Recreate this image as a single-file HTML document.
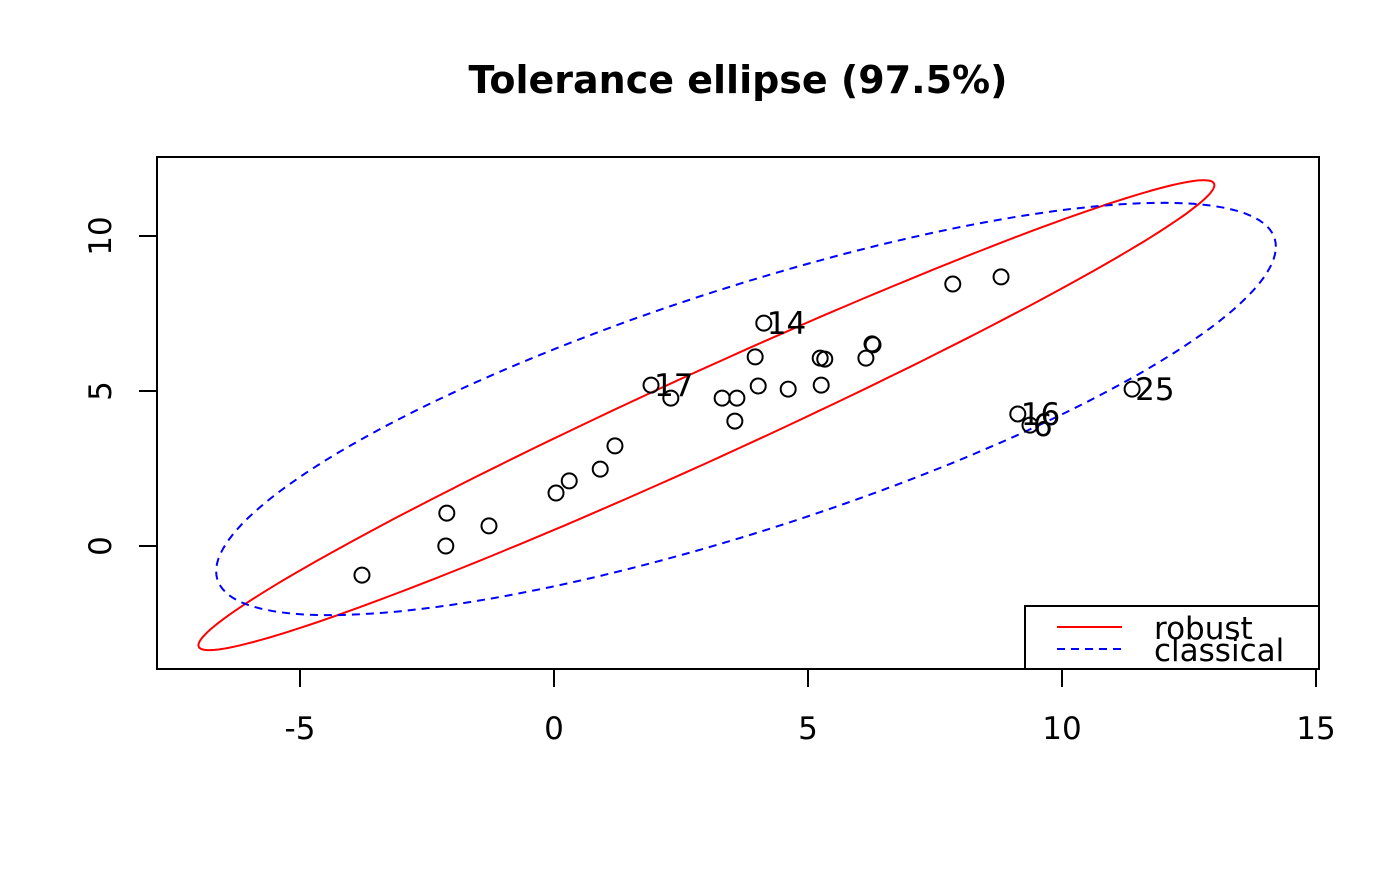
<!DOCTYPE html>
<html><head><meta charset="utf-8"><style>
html,body{margin:0;padding:0;background:#fff}
svg text{font-family:"DejaVu Sans","Liberation Sans",sans-serif;fill:#000}
</style></head><body>
<svg id="chart" width="1400" height="866" xmlns="http://www.w3.org/2000/svg">
<text x="738" y="93" text-anchor="middle" font-size="38" font-weight="bold">Tolerance ellipse (97.5%)</text>
<rect x="157" y="157" width="1162" height="512" fill="none" stroke="#000" stroke-width="2"/>
<g id="xaxis"></g>
<g id="yaxis"></g>
<g id="ellipses"></g>
<g id="points"></g>
<g>
<rect x="1025" y="606" width="294" height="63" fill="#fff" stroke="#000" stroke-width="2"/>
<line x1="1057" y1="627" x2="1122" y2="627" stroke="red" stroke-width="2"/>
<text x="1154" y="639" font-size="31">robust</text>
<line x1="1057" y1="649" x2="1122" y2="649" stroke="blue" stroke-width="2" stroke-dasharray="8,6"/>
<text x="1154" y="661" font-size="31">classical</text>
</g>
</svg>
<script>
const xTicks=[-5,0,5,10,15];
const yTicks=[0,5,10];
const xs=[-3.78,-2.11,-2.13,-1.28,0.04,0.30,0.91,1.20,1.91,2.30,3.31,3.60,3.56,3.96,4.02,4.13,4.61,5.24,5.33,5.26,6.14,6.26,6.28,7.85,8.80,9.13,9.37,11.38];
const ys=[-0.94,1.06,0,0.65,1.71,2.10,2.48,3.23,5.19,4.77,4.77,4.77,4.03,6.10,5.16,7.19,5.06,6.06,6.03,5.19,6.06,6.52,6.49,8.45,8.68,4.26,3.90,5.06];
const labels=["","","","","","","","","17","","","","","","","14","","","","","","","","","","16","6","25"];
const robust=[3.0,4.22,10.0,7.58,0.979];
const classical=[3.78,4.42,10.43,6.65,0.787];
const X=v=>554+v*50.8, Y=v=>546-v*31;
const NS="http://www.w3.org/2000/svg";
function mk(tag,attrs,parent){const e=document.createElementNS(NS,tag);for(const k in attrs)e.setAttribute(k,attrs[k]);parent.appendChild(e);return e;}
const xa=document.getElementById('xaxis'),ya=document.getElementById('yaxis');
mk('line',{x1:X(xTicks[0]),x2:X(xTicks[xTicks.length-1]),y1:669,y2:669,stroke:'#000','stroke-width':2},xa);
xTicks.forEach(t=>{
 const l=mk('line',{x1:X(t),x2:X(t),y1:669,y2:687,stroke:'#000','stroke-width':2},xa);
 
 
 const tx=mk('text',{x:X(t),y:739,'text-anchor':'middle','font-size':31},xa);tx.textContent=t;
 
 
});
mk('line',{x1:157,x2:157,y1:Y(yTicks[0]),y2:Y(yTicks[yTicks.length-1]),stroke:'#000','stroke-width':2},ya);
yTicks.forEach(t=>{
 const l=mk('line',{x1:139,x2:157,y1:Y(t),y2:Y(t),stroke:'#000','stroke-width':2},ya);
 
 
 const tx=mk('text',{x:0,y:0,'text-anchor':'middle','font-size':31,transform:`translate(111,${Y(t)}) rotate(-90)`},ya);tx.textContent=t;
 
 
});
const eg=document.getElementById('ellipses');
function ell(p){const [cx,cy,sx,sy,r]=p;let d='';const q=Math.sqrt(1-r*r);
 for(let i=0;i<=200;i++){const t=i/200*2*Math.PI;const x=cx+sx*Math.cos(t),y=cy+sy*(r*Math.cos(t)+q*Math.sin(t));d+=(i?'L':'M')+X(x).toFixed(1)+','+Y(y).toFixed(1);}
 return d+'Z';}
const er=mk('path',{d:ell(robust),fill:'none',stroke:'red','stroke-width':2},eg);


const ec=mk('path',{d:ell(classical),fill:'none',stroke:'blue','stroke-width':2,'stroke-dasharray':'8,6'},eg);


const pg=document.getElementById('points');
xs.forEach((x,i)=>{
 const c=mk('circle',{cx:X(x),cy:Y(ys[i]),r:7.5,fill:'none',stroke:'#000','stroke-width':2},pg);
 
 
 if(labels[i]){const t=mk('text',{x:X(x)+3,y:Y(ys[i])+11,'font-size':31},pg);t.textContent=labels[i];
 
 }
});
</script>
</body></html>
